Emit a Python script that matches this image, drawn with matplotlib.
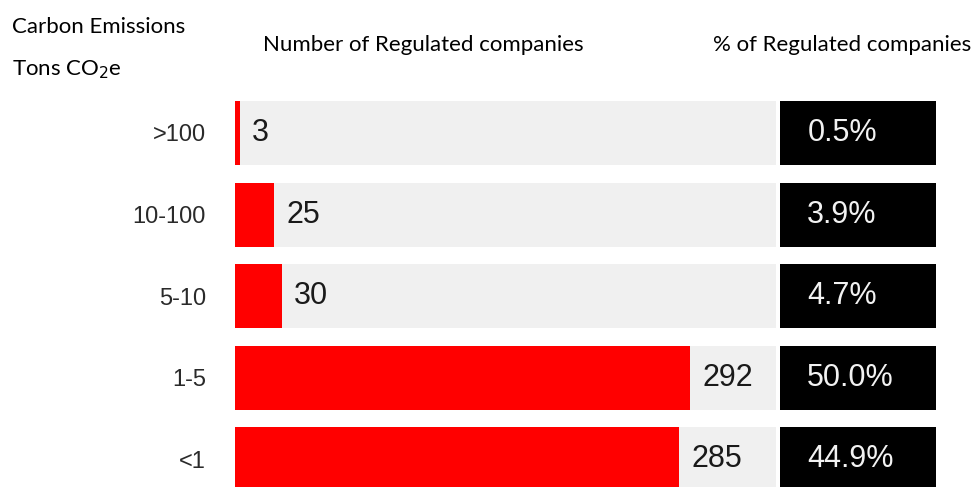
import numpy as np
import matplotlib.pyplot as plt

categories = [">100", "10-100", "5-10", "1-5", "<1"]
companies = [3, 25, 30, 292, 285]
shares = ["0.5%", "3.9%", "4.7%", "50.0%", "44.9%"]

W, H = 972, 487
fig = plt.figure(figsize=(W / 100, H / 100), dpi=100)

def px_axes(x0, x1, y0, y1):
    # pixel box (top-left origin) -> figure axes
    return fig.add_axes([x0 / W, 1 - y1 / H, (x1 - x0) / W, (y1 - y0) / H])

y = np.arange(len(categories))
ylim = (4.338, -0.392)
bar_h = 0.784
xmax = 347

ax = px_axes(235, 776, 101, 487)
ax.barh(y, xmax, height=bar_h, color="#f0f0f0", zorder=1)
ax.barh(y, companies, height=bar_h, color="#ff0000", zorder=2)
for yi, v in zip(y, companies):
    ax.annotate(str(v), (v, yi), xytext=(9, 0), textcoords="offset points",
                va="center", ha="left", fontsize=22, color="#1a1a1a",
                family="Liberation Sans")
ax.set_xlim(0, xmax)
ax.set_ylim(*ylim)
ax.set_yticks(y)
ax.set_yticklabels(categories, fontsize=17, color="#2a2a2a", family="Liberation Sans")
ax.tick_params(axis="y", length=0, pad=21)
ax.set_xticks([])
for s in ax.spines.values():
    s.set_visible(False)

ax2 = px_axes(780, 936, 101, 487)
ax2.barh(y, 1, height=bar_h, color="black")
for yi, t in zip(y, shares):
    ax2.text(0.175, yi, t, va="center", ha="left", fontsize=22,
             color="#f2f2f2", family="Liberation Sans")
ax2.set_xlim(0, 1)
ax2.set_ylim(*ylim)
ax2.axis("off")

hdr = dict(fontsize=16, family="Lato", color="black", va="center", ha="left")
fig.text(12 / W, 1 - 27 / H, "Carbon Emissions", **hdr)
fig.text(12 / W, 1 - 70 / H, "Tons CO$_2$e", **hdr)
fig.text(263 / W, 1 - 45 / H, "Number of Regulated companies", **hdr)
fig.text(713 / W, 1 - 45 / H, "% of Regulated companies", **hdr)

fig.savefig("out.png", dpi=100)
plt.close()
